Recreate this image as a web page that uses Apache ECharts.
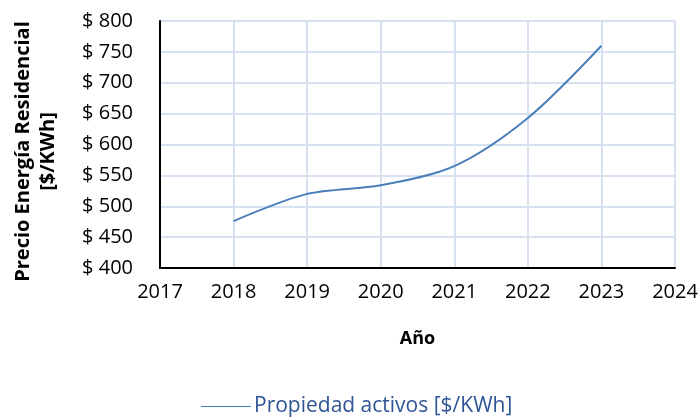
<!DOCTYPE html>
<html>
<head>
<meta charset="utf-8">
<script src="https://cdn.jsdelivr.net/npm/echarts@6/dist/echarts.min.js"></script>
<style>
html, body { margin: 0; padding: 0; background: #fff; }
#chart { width: 700px; height: 420px; }
</style>
</head>
<body>
<div id="chart"></div>
<script>
// datos
var years = [2018, 2019, 2020, 2021, 2022, 2023];
var prices = [476, 520, 534, 565, 643, 760];
var seriesName = 'Propiedad activos [$/KWh]';

var points = [];
for (var i = 0; i < years.length; i++) {
	points.push([years[i], prices[i]]);
}

var chart = echarts.init(document.getElementById('chart'));
var font = 'Open Sans';
var option = {
	animation: false,
	grid: {
		left: 160,
		right: 25,
		top: 21,
		bottom: 152,
		outerBoundsMode: 'none',
		containLabel: false
	},
	legend: {
		bottom: -2,
		left: 196,
		itemWidth: 50,
		itemHeight: 10,
		itemGap: 4,
		icon: 'path://M0,4.5L50,4.5L50,5.5L0,5.5Z',
		textStyle: { fontFamily: font, fontSize: 21, color: '#2f5597', padding: [0, 0, 0, -2] },
		data: [seriesName]
	},
	xAxis: {
		type: 'value',
		min: 2017,
		max: 2024,
		interval: 1,
		name: 'Año',
		nameLocation: 'middle',
		nameGap: 62,
		nameTextStyle: { fontFamily: font, fontSize: 18, fontWeight: 'bold', color: '#000' },
		axisLine: { show: true, lineStyle: { color: '#000', width: 2 } },
		axisTick: { show: false },
		axisLabel: {
			fontFamily: font, fontSize: 20, color: '#000', margin: 14,
			formatter: function (v) { return String(v); }
		},
		splitLine: { show: true, lineStyle: { color: '#d6e2f2', width: 2 } }
	},
	yAxis: {
		type: 'value',
		min: 400,
		max: 800,
		interval: 50,
		name: 'Precio Energía Residencial\n[$/KWh]',
		nameLocation: 'middle',
		nameGap: 99,
		nameTextStyle: {
			fontFamily: font, fontSize: 20, fontWeight: 'bold', color: '#000',
			lineHeight: 25, padding: [0, 14, 0, 0]
		},
		axisLine: { show: true, lineStyle: { color: '#000', width: 2 } },
		axisTick: { show: false },
		axisLabel: {
			fontFamily: font, fontSize: 20, color: '#000', margin: 27,
			formatter: function (v) { return '$ ' + v; }
		},
		splitLine: { show: true, lineStyle: { color: '#d6e2f2', width: 2 } }
	},
	series: [{
		name: seriesName,
		type: 'line',
		smooth: 0.3,
		symbol: 'none',
		lineStyle: { color: '#4a7ebb', width: 2 },
		itemStyle: { color: '#4a7ebb' },
		data: points
	}]
};
chart.setOption(option);
</script>
</body>
</html>
